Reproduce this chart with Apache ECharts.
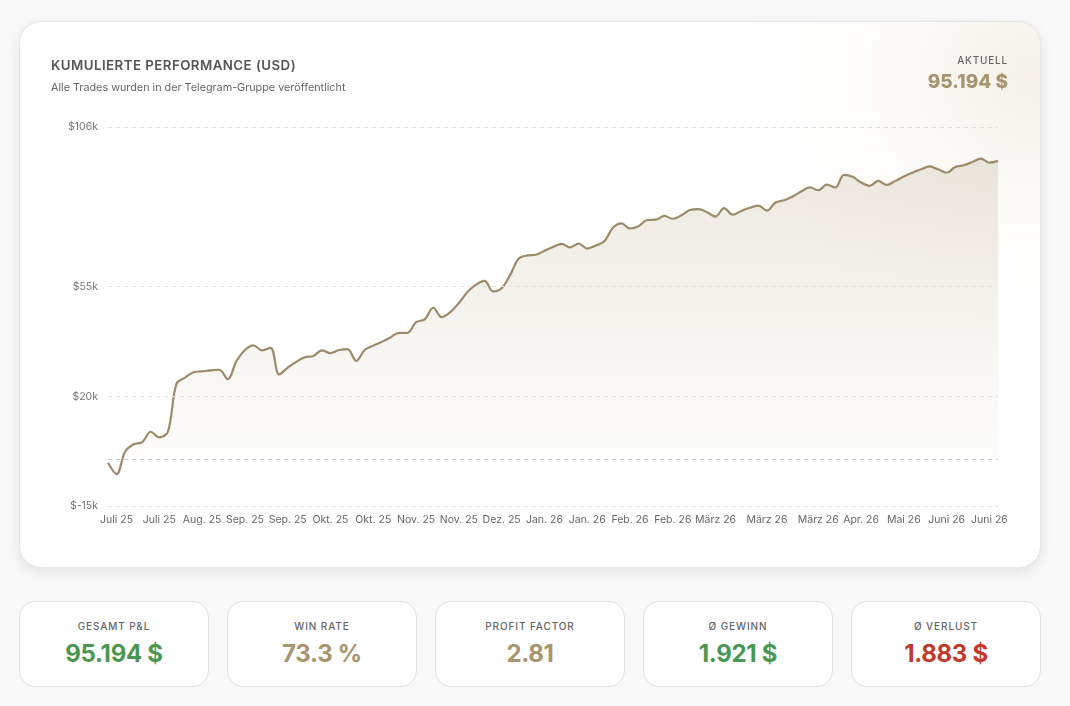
<!DOCTYPE html>
<html>
<head>
<meta charset="utf-8">
<script src="https://cdn.jsdelivr.net/npm/echarts@6/dist/echarts.min.js"></script>
<style>
  html, body { margin: 0; padding: 0; }
  body {
    width: 1070px; height: 706px; background: #f8f8f8;
    font-family: Inter, "Noto Sans", sans-serif; position: relative; overflow: hidden;
  }
  .card {
    position: absolute; left: 19px; top: 21px; width: 1020px; height: 545px;
    border: 1px solid #e6e6e6; border-radius: 22px; overflow: hidden;
    background: radial-gradient(ellipse 300px 260px at 100% 10%, rgba(220,208,184,0.30), rgba(235,228,214,0.12) 55%, rgba(255,255,255,0) 100%), #fff;
    box-shadow: 0 4px 12px rgba(0,0,0,0.09);
  }
  .title { position: absolute; left: 31px; top: 35px; font-size: 13.3px; font-weight: 600; color: #555; letter-spacing: 0.45px; }
  .sub { position: absolute; left: 31px; top: 59px; font-size: 10.8px; color: #666; }
  .now-l { position: absolute; right: 32px; top: 32px; font-size: 10px; font-weight: 500; color: #666; letter-spacing: 0.8px; }
  .now-v { position: absolute; right: 32px; top: 48px; font-size: 19px; font-weight: 800; color: #a8956f; }
  #chart { position: absolute; left: 0; top: 0; width: 1020px; height: 545px; }
  .stat {
    position: absolute; top: 601px; width: 188px; height: 84px;
    border: 1px solid #e3e3e6; border-radius: 16px; background: #fff; text-align: center;
  }
  .stat .l { margin-top: 18px; font-size: 10px; font-weight: 500; color: #666; letter-spacing: 0.9px; }
  .stat .v { margin-top: 7px; font-size: 24px; font-weight: 700; letter-spacing: -0.3px; }
</style>
</head>
<body>
<div class="card">
  <div id="chart"></div>
  <div class="title">KUMULIERTE PERFORMANCE (USD)</div>
  <div class="sub">Alle Trades wurden in der Telegram-Gruppe veröffentlicht</div>
  <div class="now-l">AKTUELL</div>
  <div class="now-v">95.194 $</div>
</div>
<div id="stats"></div>
<script>
// months and how many trade points fall in each
const monthLabels = ['Juli 25', 'Aug. 25', 'Sep. 25', 'Okt. 25', 'Nov. 25', 'Dez. 25', 'Jan. 26', 'Feb. 26', 'März 26', 'Apr. 26', 'Mai 26', 'Juni 26']
const monthCounts = [9, 5, 10, 10, 10, 5, 10, 10, 17, 5, 5, 9]
// which category indices get an x label
const labelIdx = [1, 6, 11, 16, 21, 26, 31, 36, 41, 46, 51, 56, 61, 66, 71, 77, 83, 88, 93, 98, 103]

// cumulative P&L in USD
const pnl = [
  -1200, -4800, 2300, 4700, 5400, 8700, 6900, 8700, 24000, 26000,
  27700, 28000, 28300, 28500, 25500, 31200, 34800, 36300, 34700, 35500,
  27000, 29200, 31000, 32500, 32900, 34700, 33800, 34800, 35100, 31300,
  34800, 36200, 37400, 38800, 40300, 40300, 43700, 44600, 48300, 45300,
  46900, 49800, 53300, 55700, 56900, 53500, 54500, 58800, 64000, 65000,
  65200, 66500, 67700, 68700, 67600, 68800, 67200, 68200, 69500, 73800,
  75200, 73600, 74300, 76300, 76400, 77600, 76700, 77800, 79500, 79800,
  78800, 77400, 80100, 78000, 79200, 80200, 80900, 79300, 81900, 82600,
  83800, 85400, 86700, 85800, 87600, 86700, 90700, 90100, 88300, 87200,
  88800, 87500, 88800, 90200, 91400, 92500, 93400, 92500, 91400, 93200,
  93800, 94800, 95900, 94600, 95194
]

const yTicks = [-15000, 20000, 55000, 106000]

const statLabels = ['GESAMT P&L', 'WIN RATE', 'PROFIT FACTOR', 'Ø GEWINN', 'Ø VERLUST']
const statValues = ['95.194 $', '73.3 %', '2.81', '1.921 $', '1.883 $']
const statColors = ['#4b9650', '#a8956f', '#a8956f', '#4b9650', '#c0392b']

const categories = []
monthLabels.forEach((m, i) => {
  for (let k = 0; k < monthCounts[i]; k++) categories.push(m)
})

const stats = document.getElementById('stats')
statLabels.forEach((l, i) => {
  const d = document.createElement('div')
  d.className = 'stat'
  d.style.left = (19 + i * 208) + 'px'
  d.innerHTML = '<div class="l"></div><div class="v"></div>'
  d.querySelector('.l').textContent = l
  d.querySelector('.v').textContent = statValues[i]
  d.querySelector('.v').style.color = statColors[i]
  stats.appendChild(d)
})

const chart = echarts.init(document.getElementById('chart'))
const gridLines = yTicks.map(v => ({ yAxis: v, lineStyle: { color: '#e0e0e0', type: [4, 4], width: 1 } }))
gridLines.push({ yAxis: 0, lineStyle: { color: '#c6c6c6', type: [4, 4], width: 1 } })

chart.setOption({
  animation: false,
  textStyle: { fontFamily: 'Inter' },
  grid: { left: 88, right: 42, top: 105, bottom: 61 },
  xAxis: {
    type: 'category',
    data: categories,
    boundaryGap: false,
    axisLine: { show: false },
    axisTick: { show: false },
    axisLabel: {
      interval: (index) => labelIdx.includes(index),
      color: '#666',
      fontSize: 10.5,
      margin: 8
    }
  },
  yAxis: {
    type: 'value',
    min: -15000,
    max: 106000,
    splitLine: { show: false },
    axisLine: { show: false },
    axisTick: { show: false },
    axisLabel: {
      customValues: yTicks,
      formatter: v => '$' + (v / 1000) + 'k',
      color: '#777',
      fontSize: 10.5,
      margin: 10
    }
  },
  series: [
    {
      type: 'line',
      data: pnl,
      smooth: 0.35,
      symbol: 'none',
      lineStyle: { color: '#9d8a68', width: 2.2 },
      areaStyle: {
        color: new echarts.graphic.LinearGradient(0, 0, 0, 1, [
          { offset: 0, color: 'rgba(170,150,112,0.30)' },
          { offset: 1, color: 'rgba(170,150,112,0.02)' }
        ])
      },
      markLine: {
        silent: true,
        symbol: ['none', 'none'],
        label: { show: false },
        data: gridLines
      }
    }
  ]
})
</script>
</body>
</html>
